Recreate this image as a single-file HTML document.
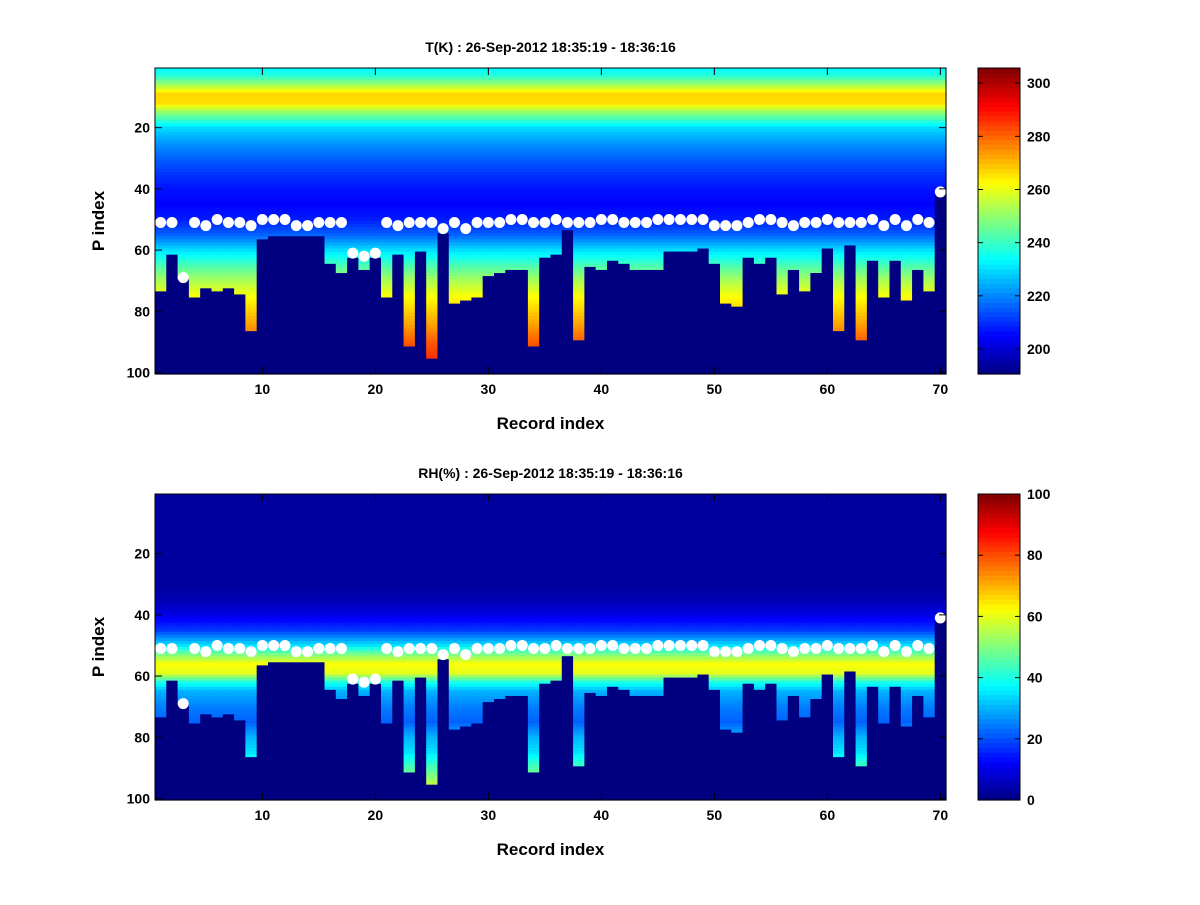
<!DOCTYPE html>
<html><head><meta charset="utf-8"><style>
body{margin:0;background:#fff;}
svg text{font-family:"Liberation Sans",sans-serif;font-weight:bold;fill:#000;}
</style></head><body>
<svg id="fig" width="1200" height="900" xmlns="http://www.w3.org/2000/svg"></svg>
<script>
const records = Array.from({length:70},(_,i)=>i+1);
const cutoffs = [73,61,69,75,72,73,72,74,86,56,55,55,55,55,55,64,67,62,66,62,75,61,91,60,95,54,77,76,75,68,67,66,66,91,62,61,53,89,65,66,63,64,66,66,66,60,60,60,59,64,77,78,62,64,62,74,66,73,67,59,86,58,89,63,75,63,76,66,73,41];
const dots = [51,51,69,51,52,50,51,51,52,50,50,50,52,52,51,51,51,61,62,61,51,52,51,51,51,53,51,53,51,51,51,50,50,51,51,50,51,51,51,50,50,51,51,51,50,50,50,50,50,52,52,52,51,50,50,51,52,51,51,50,51,51,51,50,52,50,52,50,51,41];
const tLevels = [1,3,6,9,12,15,20,25,30,35,40,45,50,55,60,65,70,75,80,85,90,95,100];
const tValues = [234,238,252,267,266,250,230,222,216,211,207,205,208,216,230,242,253,262,268,274,281,286,290];
const rhLevels = [1,30,35,40,45,50,53,56,59,62,65,70,75,80,85,90,95,100];
const rhValues = [3,3,5,10,18,35,50,62,60,40,30,25,22,30,35,45,55,58];
const xTicks = [10,20,30,40,50,60,70];
const yTicks = [20,40,60,80,100];
const tCbTicks = [200,220,240,260,280,300];
const rhCbTicks = [0,20,40,60,80,100];

const NS="http://www.w3.org/2000/svg", svg=document.getElementById('fig');
function mk(tag,attrs,parent){const e=document.createElementNS(NS,tag);for(const k in attrs)e.setAttribute(k,attrs[k]);(parent||svg).appendChild(e);return e;}
function jet(v){v=Math.max(0,Math.min(1,v));
 const f=x=>Math.max(0,Math.min(1,x));
 const r=f(1.5-Math.abs(4*v-3)),g=f(1.5-Math.abs(4*v-2)),b=f(1.5-Math.abs(4*v-1));
 return `rgb(${Math.round(r*255)},${Math.round(g*255)},${Math.round(b*255)})`;}
function interp(levels,vals,p){for(let i=0;i<levels.length-1;i++){if(p<=levels[i+1]){const t=(p-levels[i])/(levels[i+1]-levels[i]);return vals[i]+t*(vals[i+1]-vals[i]);}}return vals[vals.length-1];}

function panel(o){
 const L=155,R=946,T=o.top,B=o.top+306;
 const xs=n=>L+(n-0.5)*(R-L)/70, ys=p=>T+(p-0.5)*(B-T)/100;
 const g=mk('g',{});  
 records.forEach((r,i)=>{
  for(let p=1;p<=100;p++){
   let v;
   if(p>cutoffs[i]) v=0;
   else {const raw=interp(o.levels,o.values,p); v=(raw-o.min)/(o.max-o.min);}
   const c=mk('rect',{x:xs(r-0.5),y:ys(p-0.5),width:(R-L)/70+0.6,height:(B-T)/100+0.6,fill:jet(v)},g);
   
   
  }
 });
 records.forEach((r,i)=>{
  const d=mk('circle',{cx:xs(r),cy:ys(dots[i]),r:5.5,fill:'#fff'});
  
  
 });
 const ax=mk('rect',{x:L,y:T,width:R-L,height:B-T,fill:'none',stroke:'#000','stroke-width':1});
  
 xTicks.forEach(t=>{const x=xs(t);
  mk('line',{x1:x,x2:x,y1:B,y2:B-7,stroke:'#000'});mk('line',{x1:x,x2:x,y1:T,y2:T+7,stroke:'#000'});
  const tx=mk('text',{x:x,y:B+20,'text-anchor':'middle','font-size':14});tx.textContent=t;
   });
 yTicks.forEach(t=>{const y=ys(t);
  mk('line',{x1:L,x2:L+7,y1:y,y2:y,stroke:'#000'});mk('line',{x1:R,x2:R-7,y1:y,y2:y,stroke:'#000'});
  const tx=mk('text',{x:L-5,y:y+5,'text-anchor':'end','font-size':14});tx.textContent=t;
   });
 const ti=mk('text',{x:(L+R)/2,y:T-16,'text-anchor':'middle','font-size':14});ti.textContent=o.title;
  
 const xl=mk('text',{x:(L+R)/2,y:B+55,'text-anchor':'middle','font-size':17});xl.textContent='Record index';
  
 const yl=mk('text',{x:0,y:0,'text-anchor':'middle','font-size':17,transform:`translate(104,${(T+B)/2}) rotate(-90)`});yl.textContent='P index';
  
 const CL=978,CR=1020;
 const cb=mk('g',{});  
 const n=64;
 for(let k=0;k<n;k++){const y=B-(k+1)*(B-T)/n;
  mk('rect',{x:CL,y:y,width:CR-CL,height:(B-T)/n+0.6,fill:jet((k+0.5)/n)},cb);}
 mk('rect',{x:CL,y:T,width:CR-CL,height:B-T,fill:'none',stroke:'#000'},cb);
 const cy=v=>B-(v-o.min)/(o.max-o.min)*(B-T);
 o.cbTicks.forEach(t=>{const y=cy(t);
  mk('line',{x1:CL,x2:CL+5,y1:y,y2:y,stroke:'#000'},cb);mk('line',{x1:CR,x2:CR-5,y1:y,y2:y,stroke:'#000'},cb);
  const tx=mk('text',{x:CR+7,y:y+5,'font-size':14},cb);tx.textContent=t;
   });
}
panel({name:'temperature',top:68,levels:tLevels,values:tValues,min:190.6,max:305.7,cbTicks:tCbTicks,title:'T(K) : 26-Sep-2012 18:35:19 - 18:36:16'});
panel({name:'humidity',top:494,levels:rhLevels,values:rhValues,min:0,max:100,cbTicks:rhCbTicks,title:'RH(%) : 26-Sep-2012 18:35:19 - 18:36:16'});
</script>
</body></html>
